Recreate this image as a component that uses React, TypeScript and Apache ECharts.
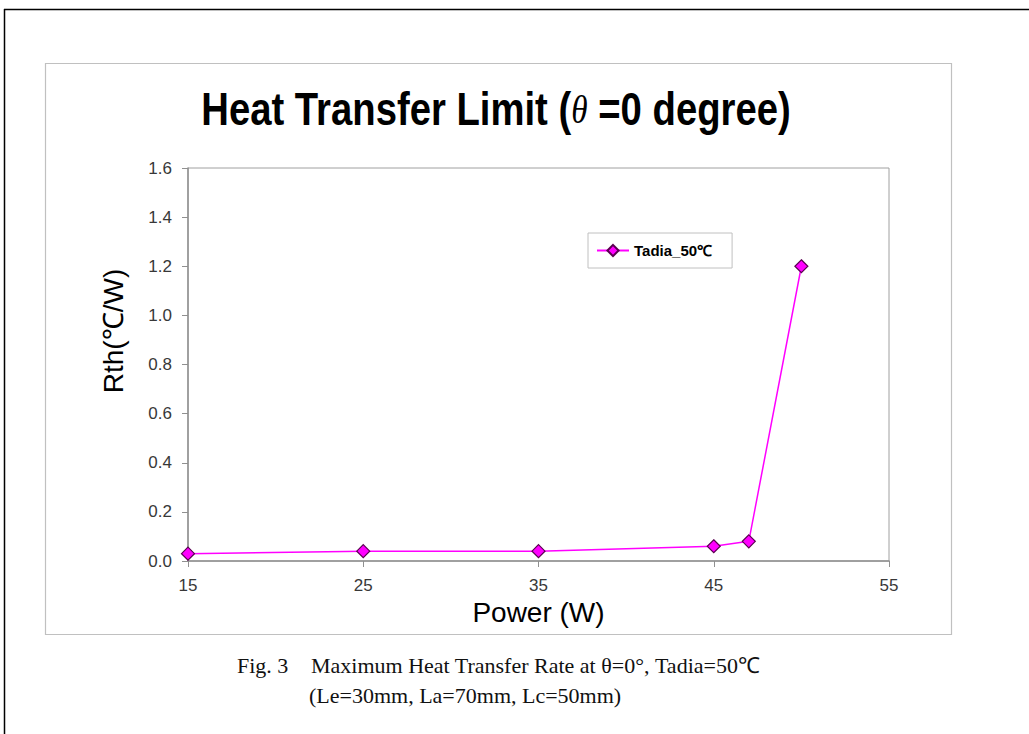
import React, { useEffect, useRef } from "react";
import * as echarts from "echarts";

const seriesName = "Tadia_50℃";
const powerW = [15, 25, 35, 45, 47, 50];
const rthValues = [0.03, 0.04, 0.04, 0.06, 0.08, 1.2];
const xTicks = [15, 25, 35, 45, 55];
const titleMain = "Heat Transfer Limit (";
const titleTheta = "θ";
const titleRest = " =0 degree)";
const xName = "Power (W)";
const yName = "Rth(℃/W)";
const captionFig = "Fig. 3";
const captionLine1 = "Maximum Heat Transfer Rate at θ=0°, Tadia=50℃";
const captionLine2 = "(Le=30mm, La=70mm, Lc=50mm)";

export default function App() {
  const ref = useRef<HTMLDivElement>(null);
  useEffect(() => {
    if (!ref.current) return;
    const chart = echarts.init(ref.current, null, { renderer: "svg" });
    chart.setOption({
      animation: false,
      backgroundColor: "#ffffff",
      grid: {
        left: 188,
        right: 140,
        top: 168,
        bottom: 173,
        show: true,
        borderColor: "#a0a0a0",
        borderWidth: 1,
      },
      legend: {
        left: 588,
        top: 233,
        orient: "horizontal",
        padding: [10, 20, 10, 8],
        borderColor: "#c0c0c0",
        borderWidth: 1,
        itemWidth: 32,
        itemHeight: 14,
        itemGap: 4,
        textStyle: {
          fontFamily: "Liberation Sans",
          fontWeight: "bold",
          fontSize: 15,
          color: "#000",
        },
        data: [seriesName],
      },
      xAxis: {
        type: "value",
        min: 15,
        max: 55,
        name: xName,
        nameLocation: "middle",
        nameGap: 37,
        nameTextStyle: { fontFamily: "Liberation Sans", fontSize: 28, color: "#000" },
        axisLine: { show: true, lineStyle: { color: "#909090", width: 1.5 } },
        axisTick: { show: true, length: 6, customValues: xTicks, lineStyle: { color: "#909090" } },
        axisLabel: {
          customValues: xTicks,
          fontFamily: "Liberation Sans",
          fontSize: 17,
          color: "#383838",
          margin: 16,
        },
        splitLine: { show: false },
      },
      yAxis: {
        type: "value",
        min: 0,
        max: 1.6,
        interval: 0.2,
        axisLine: { show: true, lineStyle: { color: "#909090", width: 1.5 } },
        axisTick: { show: true, length: 6, lineStyle: { color: "#909090" } },
        axisLabel: {
          fontFamily: "Liberation Sans",
          fontSize: 17,
          color: "#383838",
          margin: 16,
          formatter: (v: number) => v.toFixed(1),
        },
        splitLine: { show: false },
      },
      series: [
        {
          name: seriesName,
          type: "line",
          data: powerW.map((x, i) => [x, rthValues[i]]),
          symbol: "diamond",
          symbolSize: 13,
          itemStyle: { color: "#ff00ff", borderColor: "#5a0050", borderWidth: 1.2 },
          lineStyle: { color: "#ff00ff", width: 1.5 },
        },
      ],
      graphic: [
        {
          type: "line",
          shape: { x1: 4, y1: 9.5, x2: 1029, y2: 9.5 },
          style: { stroke: "#000", lineWidth: 1.5 },
          z: 10,
        },
        {
          type: "line",
          shape: { x1: 4.5, y1: 9, x2: 4.5, y2: 734 },
          style: { stroke: "#000", lineWidth: 1.5 },
          z: 10,
        },
        {
          type: "rect",
          shape: { x: 45.5, y: 63.5, width: 906, height: 571 },
          style: { fill: "none", stroke: "#c0c0c0", lineWidth: 1.2 },
          z: 0,
        },
        {
          type: "text",
          x: 496,
          y: 109,
          scaleX: 0.832,
          style: {
            text: "{a|" + titleMain + "}{t|" + titleTheta + "}{a|" + titleRest + "}",
            align: "center",
            verticalAlign: "middle",
            rich: {
              a: {
                fontFamily: "Liberation Sans",
                fontWeight: "bold",
                fontSize: 46,
                fill: "#000",
              },
              t: {
                fontFamily: "Liberation Serif",
                fontStyle: "italic",
                fontSize: 40,
                fill: "#000",
              },
            },
          },
        },
        {
          type: "text",
          x: 113,
          y: 331,
          rotation: Math.PI / 2,
          style: {
            text: yName,
            fontFamily: "Liberation Sans",
            fontSize: 28,
            fill: "#000",
            align: "center",
            verticalAlign: "middle",
          },
        },
        {
          type: "text",
          x: 237,
          y: 665,
          style: {
            text: captionFig,
            fontFamily: "Liberation Serif",
            fontSize: 22,
            fill: "#111",
            verticalAlign: "middle",
          },
        },
        {
          type: "text",
          x: 311,
          y: 665,
          style: {
            text: captionLine1,
            fontFamily: "Liberation Serif",
            fontSize: 22,
            fill: "#111",
            verticalAlign: "middle",
          },
        },
        {
          type: "text",
          x: 309,
          y: 695,
          style: {
            text: captionLine2,
            fontFamily: "Liberation Serif",
            fontSize: 22,
            fill: "#111",
            verticalAlign: "middle",
          },
        },
      ],
    });
    return () => chart.dispose();
  }, []);
  return (
    <div
      ref={ref}
      style={{ position: "fixed", left: 0, top: 0, width: 1029, height: 734 }}
    />
  );
}
